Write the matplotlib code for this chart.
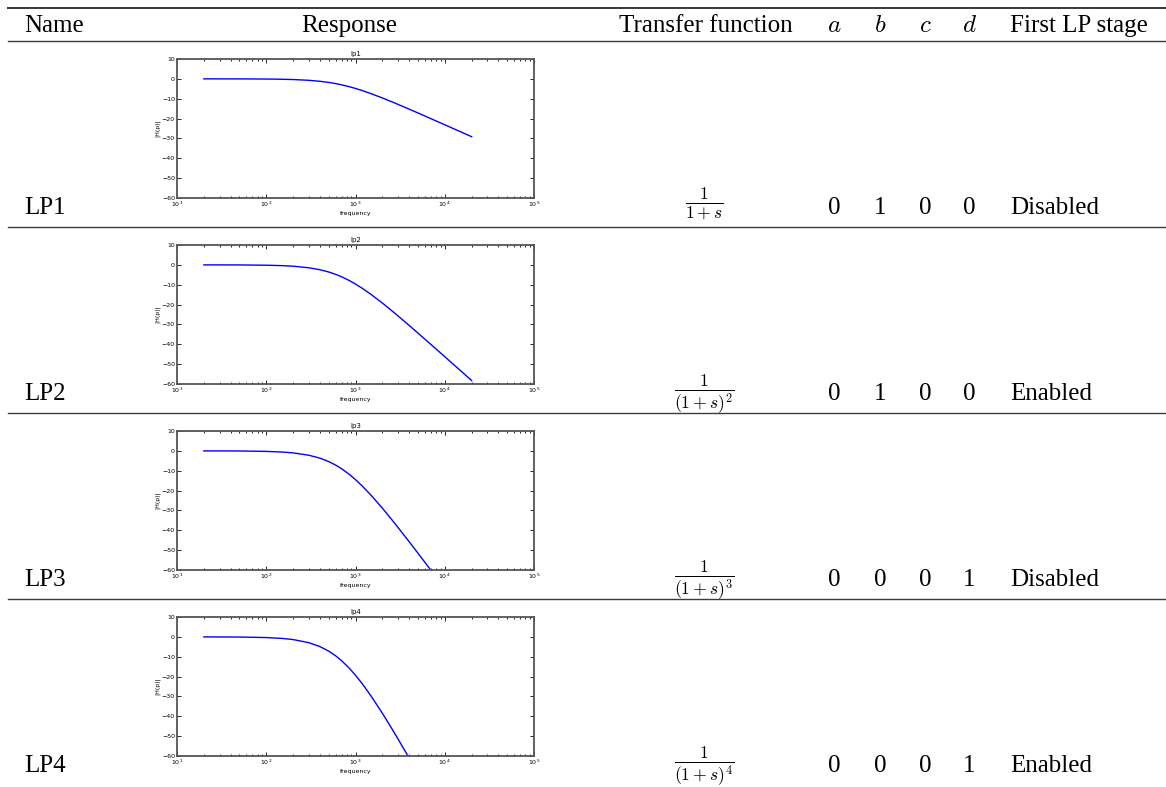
"""
Table of low-pass stage responses with a small Bode plot per row.
"""
import matplotlib
matplotlib.use('Agg')
import matplotlib.pyplot as plt
from matplotlib.lines import Line2D

W, H = 1166, 787

###############################################################################
# Data
###############################################################################

names = ['LP1', 'LP2', 'LP3', 'LP4']
titles = ['lp1', 'lp2', 'lp3', 'lp4']
transfer = [r'$\frac{1}{1+s}$', r'$\frac{1}{(1+s)^2}$',
            r'$\frac{1}{(1+s)^3}$', r'$\frac{1}{(1+s)^4}$']
coef_a = [0, 0, 0, 0]
coef_b = [1, 1, 0, 0]
coef_c = [0, 0, 0, 0]
coef_d = [0, 0, 1, 1]
first_lp = ['Disabled', 'Enabled', 'Disabled', 'Enabled']

freq = [20, 50, 100, 150, 200, 300, 400, 500, 600, 700, 850, 1000, 1200,
        1500, 2000, 2500, 3000, 4000, 5000, 7000, 10000, 15000, 20000]
gain_lp1 = [0.0, -0.02, -0.09, -0.2, -0.34, -0.73, -1.23, -1.79, -2.39,
            -3.01, -3.94, -4.83, -5.96, -7.48, -9.62, -11.39, -12.87,
            -15.27, -17.16, -20.05, -23.12, -26.63, -29.13]
gain_lp2 = [-0.01, -0.04, -0.18, -0.39, -0.68, -1.47, -2.46, -3.58, -4.79,
            -6.02, -7.87, -9.66, -11.91, -14.95, -19.24, -22.77, -25.74,
            -30.54, -34.32, -40.09, -46.24, -53.26, -58.25]
gain_lp3 = [-0.01, -0.06, -0.27, -0.59, -1.02, -2.2, -3.69, -5.37, -7.18,
            -9.03, -11.8, -14.49, -17.87, -22.43, -28.86, -34.16, -38.61,
            -45.81, -51.48, -60.14, -69.36, -79.89, -87.38]
gain_lp4 = [-0.02, -0.09, -0.35, -0.78, -1.36, -2.93, -4.91, -7.16, -9.57,
            -12.04, -15.74, -19.32, -23.82, -29.9, -38.48, -45.54, -51.48,
            -61.08, -68.64, -80.18, -92.48, -106.52, -116.5]
gains = [gain_lp1, gain_lp2, gain_lp3, gain_lp4]

header = ['Name', 'Response', 'Transfer function', '$a$', '$b$', '$c$', '$d$',
          'First LP stage']


def fx(x):
    return x / W


def fy(y):
    return 1 - y / H


plt.rcParams['font.family'] = ['Liberation Serif', 'DejaVu Serif']
plt.rcParams['mathtext.fontset'] = 'cm'

fig = plt.figure(figsize=(W / 100, H / 100), dpi=100)


def hline(y, lw):
    """Draws one table rule across the page."""
    fig.add_artist(Line2D([fx(8), 1], [fy(y), fy(y)], color='#3a3a3a',
                          lw=lw, transform=fig.transFigure))


hline(8, 1.4)
hline(41, 1.0)

FS = 18
col_x = [834, 880, 925, 969]

# header row
hy = fy(32)
fig.text(fx(24), hy, header[0], fontsize=FS, va='baseline', ha='left')
fig.text(fx(349), hy, header[1], fontsize=FS, va='baseline', ha='center')
fig.text(fx(706), hy, header[2], fontsize=FS, va='baseline', ha='center')
for x, lab in zip(col_x, header[3:7]):
    fig.text(fx(x), hy, lab, fontsize=FS, va='baseline', ha='center')
fig.text(fx(1010), hy, header[7], fontsize=FS, va='baseline', ha='left')

ROW = 186
for i in range(4):
    base = 41 + ROW * i
    if i > 0:
        hline(base, 1.0)

    # the small response plot
    ax = fig.add_axes([fx(177), fy(base + 157), 357 / W, 139 / H])
    ax.semilogx(freq, gains[i], color='b', lw=1)
    ax.set_xlim(10, 1e5)
    ax.set_ylim(-60, 10)
    ax.set_yticks(range(-60, 11, 10))
    ax.set_title(titles[i], fontsize=5, pad=2, family='DejaVu Sans')
    ax.set_xlabel('frequency', fontsize=4.5, labelpad=1, family='DejaVu Sans')
    ax.set_ylabel('|H(p)|', fontsize=4.5, labelpad=1, family='DejaVu Sans')
    ax.tick_params(which='both', direction='in', top=True, right=True,
                   labelsize=4.5, width=0.6, pad=1.5)
    ax.tick_params(which='major', length=3)
    ax.tick_params(which='minor', length=1.5)
    for lab in ax.get_xticklabels() + ax.get_yticklabels():
        lab.set_family('DejaVu Sans')
    for sp in ax.spines.values():
        sp.set_linewidth(1.3)
        sp.set_color('#555555')

    ty = fy(base + 173)
    fig.text(fx(24), ty, names[i], fontsize=FS, va='baseline', ha='left')
    fig.text(fx(704), fy(base + 168), transfer[i], fontsize=FS,
             va='baseline', ha='center')
    vals = [coef_a[i], coef_b[i], coef_c[i], coef_d[i]]
    for x, v in zip(col_x, vals):
        fig.text(fx(x), ty, str(v), fontsize=FS, va='baseline', ha='center')
    fig.text(fx(1010), ty, first_lp[i], fontsize=FS, va='baseline',
             ha='left')

fig.savefig('out.png', dpi=100)
